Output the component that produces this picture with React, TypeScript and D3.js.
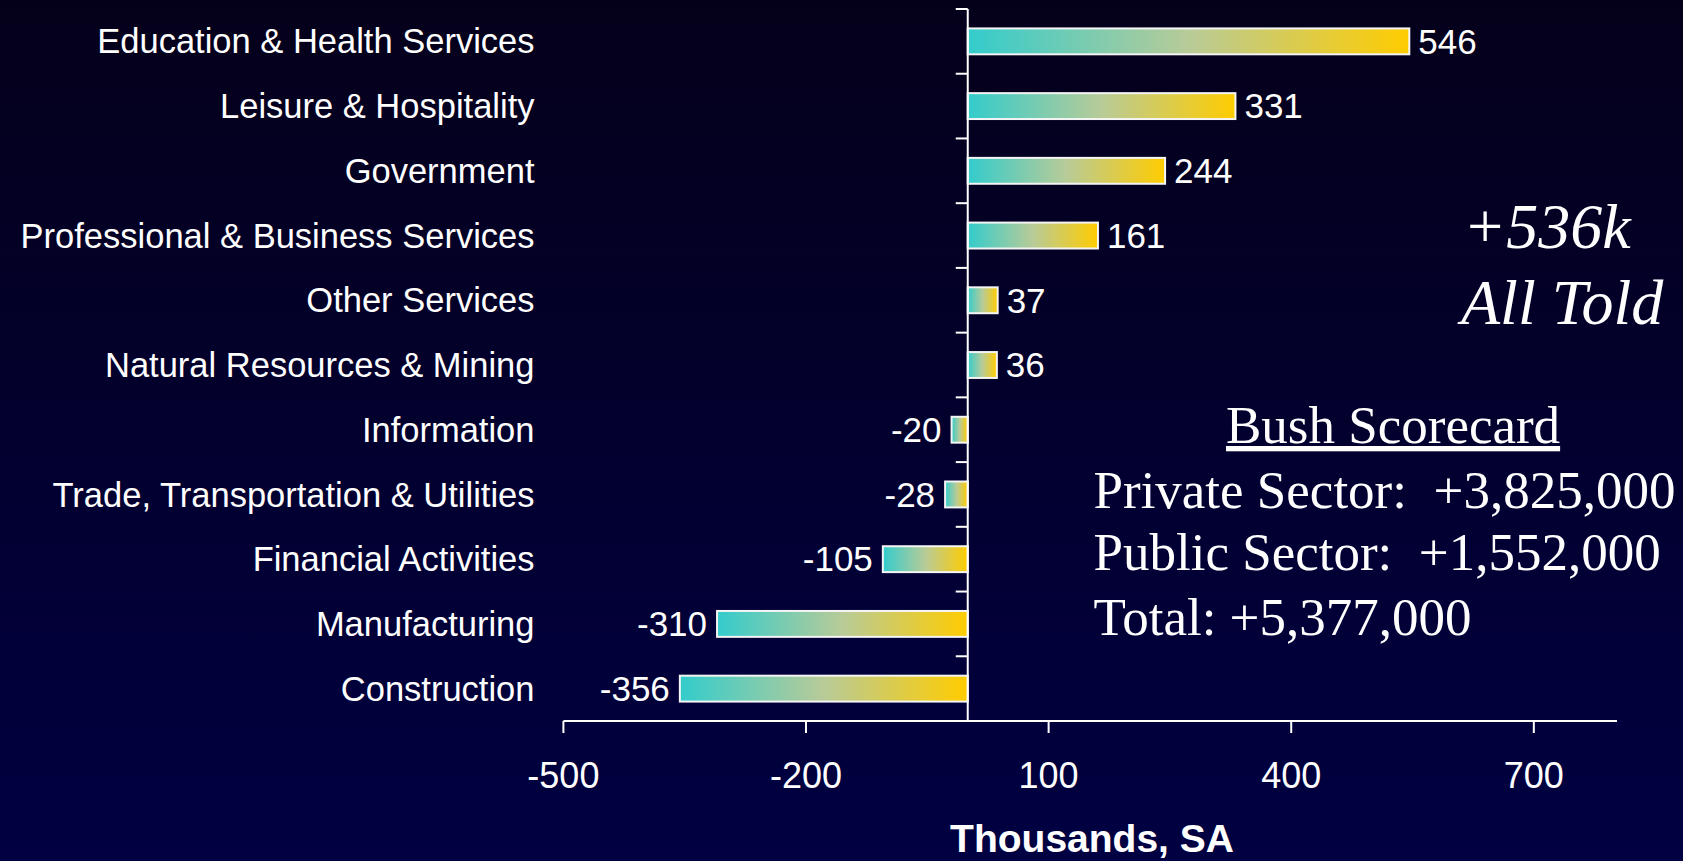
import React from "react";
import * as d3 from "d3";

const categories = [
  "Education & Health Services",
  "Leisure & Hospitality",
  "Government",
  "Professional & Business Services",
  "Other Services",
  "Natural Resources & Mining",
  "Information",
  "Trade, Transportation & Utilities",
  "Financial Activities",
  "Manufacturing",
  "Construction",
];
const values = [546, 331, 244, 161, 37, 36, -20, -28, -105, -310, -356];
const xTicks = [-500, -200, 100, 400, 700];
const xDomain = [-500, 800];
const axisTitle = "Thousands, SA";
const headline = ["+536k", "All Told"];
const scoreTitle = "Bush Scorecard";
const scoreLines = [
  "Private Sector:  +3,825,000",
  "Public Sector:  +1,552,000",
  "Total: +5,377,000",
];

const W = 1683;
const H = 861;

export default function App() {
  const x = d3.scaleLinear().domain(xDomain).range([563.4, 1614.7]);
  const y = d3
    .scaleBand<string>()
    .domain(categories)
    .range([9, 721])
    .paddingInner(0.6)
    .paddingOuter(0.3);
  const step = y.step();
  const x0 = x(0);
  const yBottom = 721;
  const sans = "'Liberation Sans', Arial, sans-serif";
  const serif = "'Liberation Serif', 'Times New Roman', serif";

  return (
    <svg
      width={W}
      height={H}
      style={{ position: "fixed", left: 0, top: 0, display: "block" }}
    >
      <defs>
        <linearGradient id="bg" x1="0" y1="0" x2="0" y2="1">
          <stop offset="0" stopColor="#05001a" />
          <stop offset="1" stopColor="#000042" />
        </linearGradient>
        <linearGradient id="bar" x1="0" y1="0" x2="1" y2="0">
          <stop offset="0" stopColor="#33cccc" />
          <stop offset="0.5" stopColor="#b8cb98" />
          <stop offset="1" stopColor="#ffcc00" />
        </linearGradient>
      </defs>
      <rect x={0} y={0} width={W} height={H} fill="url(#bg)" />

      {/* bars */}
      {categories.map((c, i) => {
        const v = values[i];
        const bx = Math.min(x(v), x0);
        const bw = Math.abs(x(v) - x0);
        return (
          <rect
            key={c}
            x={bx}
            y={y(c)}
            width={bw}
            height={y.bandwidth()}
            fill="url(#bar)"
            stroke="#f4f4f4"
            strokeWidth={2}
          />
        );
      })}

      {/* y axis */}
      <line x1={x0} x2={x0} y1={9} y2={yBottom} stroke="#ffffff" strokeWidth={2} />
      {d3.range(categories.length).map((i) => {
        const ty = 9 + i * step;
        return (
          <line
            key={"yt" + i}
            x1={x0 - 12}
            x2={x0}
            y1={ty}
            y2={ty}
            stroke="#ffffff"
            strokeWidth={2}
          />
        );
      })}

      {/* x axis */}
      <line x1={x(-500)} x2={1617} y1={yBottom} y2={yBottom} stroke="#ffffff" strokeWidth={2} />
      {xTicks.map((t) => (
        <g key={"xt" + t}>
          <line x1={x(t)} x2={x(t)} y1={yBottom} y2={yBottom + 12} stroke="#ffffff" strokeWidth={2} />
          <text
            x={x(t)}
            y={788}
            textAnchor="middle"
            fill="#ffffff"
            fontFamily={sans}
            fontSize={36}
          >
            {t}
          </text>
        </g>
      ))}
      <text
        x={(x.range()[0] + x.range()[1]) / 2 + 3}
        y={852}
        textAnchor="middle"
        fill="#ffffff"
        fontFamily={sans}
        fontWeight="bold"
        fontSize={39}
      >
        {axisTitle}
      </text>

      {/* category labels */}
      {categories.map((c) => (
        <text
          key={"cl" + c}
          x={534.5}
          y={(y(c) as number) + y.bandwidth() / 2}
          dy="0.35em"
          textAnchor="end"
          fill="#ffffff"
          fontFamily={sans}
          fontSize={34.5}
        >
          {c}
        </text>
      ))}

      {/* value labels */}
      {categories.map((c, i) => {
        const v = values[i];
        const pos = v >= 0;
        return (
          <text
            key={"vl" + c}
            x={pos ? x(v) + 9 : x(v) - 10}
            y={(y(c) as number) + y.bandwidth() / 2}
            dy="0.35em"
            textAnchor={pos ? "start" : "end"}
            fill="#ffffff"
            fontFamily={sans}
            fontSize={35}
          >
            {v}
          </text>
        );
      })}

      {/* annotations */}
      <text x={1463} y={248} fill="#ffffff" fontFamily={serif} fontStyle="italic" fontSize={64}>
        {headline[0]}
      </text>
      <text x={1461} y={324} fill="#ffffff" fontFamily={serif} fontStyle="italic" fontSize={64}>
        {headline[1]}
      </text>
      <text
        x={1226}
        y={443}
        fill="#ffffff"
        fontFamily={serif}
        fontSize={53}
        textDecoration="underline"
      >
        {scoreTitle}
      </text>
      {scoreLines.map((s, i) => (
        <text
          key={"sl" + i}
          x={1093.5}
          y={[508, 570, 635][i]}
          fill="#ffffff"
          fontFamily={serif}
          fontSize={53}
          style={{ whiteSpace: "pre" }}
        >
          {s}
        </text>
      ))}
    </svg>
  );
}
